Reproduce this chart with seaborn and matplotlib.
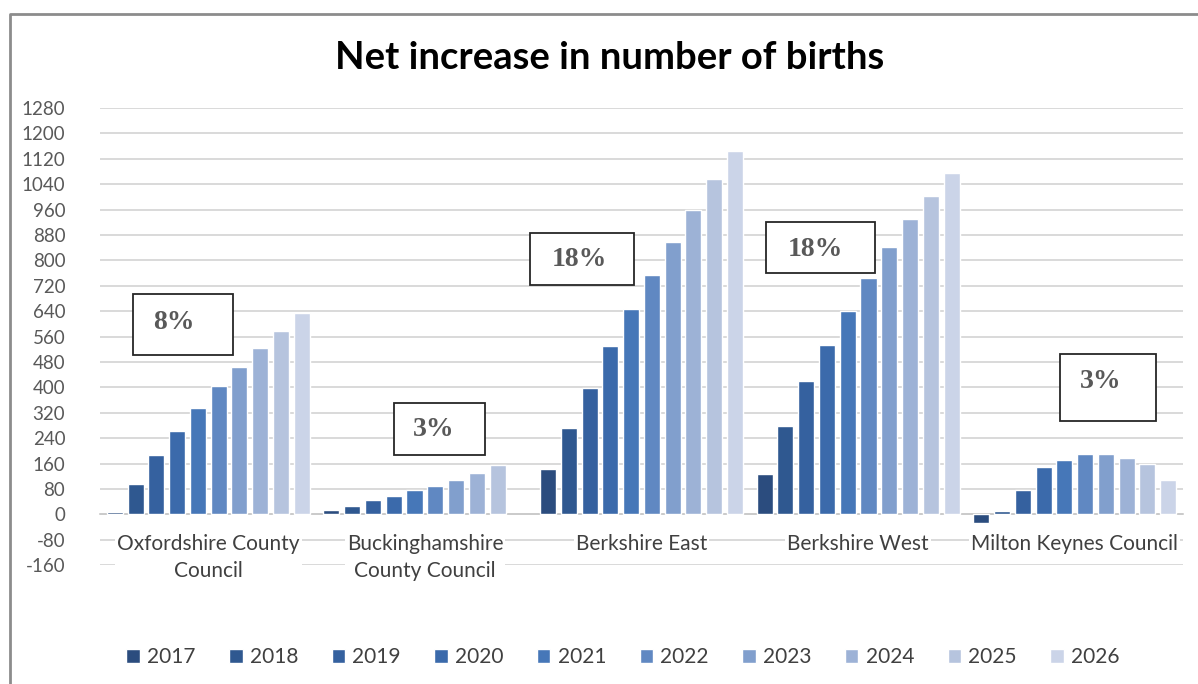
import numpy as np
import pandas as pd
import matplotlib
matplotlib.use("Agg")
import matplotlib.pyplot as plt
from matplotlib.patches import Rectangle
from matplotlib.lines import Line2D
import seaborn as sns

# ---------------- data ----------------
authorities = ["Oxfordshire County\nCouncil", "Buckinghamshire\nCounty Council",
               "Berkshire East", "Berkshire West", "Milton Keynes Council"]
years = ["2017", "2018", "2019", "2020", "2021", "2022", "2023", "2024", "2025", "2026"]
oxfordshire = [8, 97, 187, 263, 335, 405, 463, 523, 578, 636]
buckinghamshire = [13, 27, 45, 59, 76, 89, 110, 131, 155, np.nan]
berkshire_east = [142, 273, 398, 530, 647, 755, 859, 959, 1056, 1146]
berkshire_west = [128, 280, 420, 533, 640, 744, 841, 932, 1004, 1074]
milton_keynes = [-28, 12, 77, 149, 171, 190, 190, 177, 158, 110]
pct_labels = ["8%", "3%", "18%", "18%", "3%"]
yticks = list(range(-160, 1281, 80))
title = "Net increase in number of births"

colors = ["#2b4c7e", "#2f5890", "#35619f", "#3b6aab", "#4677b8",
          "#6088c2", "#819fcd", "#9db2d6", "#b6c4de", "#cbd4e8"]

series = [oxfordshire, buckinghamshire, berkshire_east, berkshire_west, milton_keynes]
rows = []
for auth, vals in zip(authorities, series):
    for yr, v in zip(years, vals):
        rows.append({"Authority": auth, "Year": yr, "Value": v})
df = pd.DataFrame(rows).dropna()

# ---------------- figure ----------------
W, H = 1198, 684
sns.set_style("white")
plt.rcParams["font.family"] = ["Lato", "DejaVu Sans"]

fig = plt.figure(figsize=(W / 100, H / 100), dpi=100)
fig.patch.set_facecolor("white")

def fx(px):
    return px / W

def fy(py):
    return 1 - py / H

ax_left, ax_right, ax_top, ax_bottom = 100, 1183, 108, 565.3
ax = fig.add_axes([fx(ax_left), fy(ax_bottom), fx(ax_right - ax_left), (ax_bottom - ax_top) / H])

sns.barplot(data=df, x="Authority", y="Value", hue="Year", order=authorities,
            hue_order=years, palette=colors, saturation=1, width=0.96, gap=0.23,
            errorbar=None, ax=ax, zorder=2)

ax.set_ylim(-160, 1280)
ax.set_xlim(-0.5, 4.5)
ax.set_yticks(yticks)
ax.set_yticklabels([str(t) for t in yticks])
ax.set_xlabel("")
ax.set_ylabel("")
ax.set_axisbelow(True)
ax.yaxis.grid(True, color="#d9d9d9", lw=1.4)
ax.xaxis.grid(False)
for s in ["left", "right", "top"]:
    ax.spines[s].set_visible(False)
ax.spines["bottom"].set_position(("data", 0))
ax.spines["bottom"].set_color("#c8c8c8")
ax.spines["bottom"].set_linewidth(1.2)
ax.spines["bottom"].set_zorder(1.5)

ax.tick_params(axis="y", length=0, pad=25, labelsize=13.5, labelcolor="#595959")
ax.tick_params(axis="x", length=0, pad=14, labelsize=15, labelcolor="#404040")
for lbl in ax.get_xticklabels():
    lbl.set_linespacing(1.42)
    lbl.set_bbox(dict(facecolor="white", edgecolor="none", pad=1.5))
ax.xaxis.set_zorder(0.9)

# legend
handles, labels = ax.get_legend_handles_labels()
if ax.legend_:
    ax.legend_.remove()
fig.legend(handles, labels, loc="center", bbox_to_anchor=(fx(623), fy(657)), ncol=10,
           frameon=False, fontsize=15, handlelength=0.65, handleheight=0.65,
           handletextpad=0.35, columnspacing=1.6, labelcolor="#404040")

# title
fig.text(fx(610), fy(58), title, ha="center", va="center", fontsize=27.5,
         fontweight="bold", color="#000000")

# percentage boxes (pixel layout)
box_layout = [  # x0, y0, x1, y1, text x, text y
    (133, 294, 233, 355, 174, 322),
    (394, 403, 485, 455, 434, 430),
    (530, 233, 634, 285, 579, 260),
    (766, 222, 875, 273, 815, 249),
    (1060, 354, 1156, 421, 1101, 382),
]
for (x0, y0, x1, y1, tx, ty), txt in zip(box_layout, pct_labels):
    fig.add_artist(Rectangle((fx(x0), fy(y1)), fx(x1 - x0), (y1 - y0) / H,
                             transform=fig.transFigure, facecolor="white",
                             edgecolor="#262626", lw=1.3, zorder=5))
    fig.text(fx(tx), fy(ty), txt, ha="center", va="center", fontsize=20,
             fontweight="bold", family="Liberation Serif", color="#595959", zorder=6)

# outer chart frame
fig.add_artist(Line2D([fx(10), fx(10), fx(1198)], [fy(684), fy(14), fy(14)],
                      transform=fig.transFigure, color="#8c8c8c", lw=2))

fig.savefig("out.png", dpi=100)
